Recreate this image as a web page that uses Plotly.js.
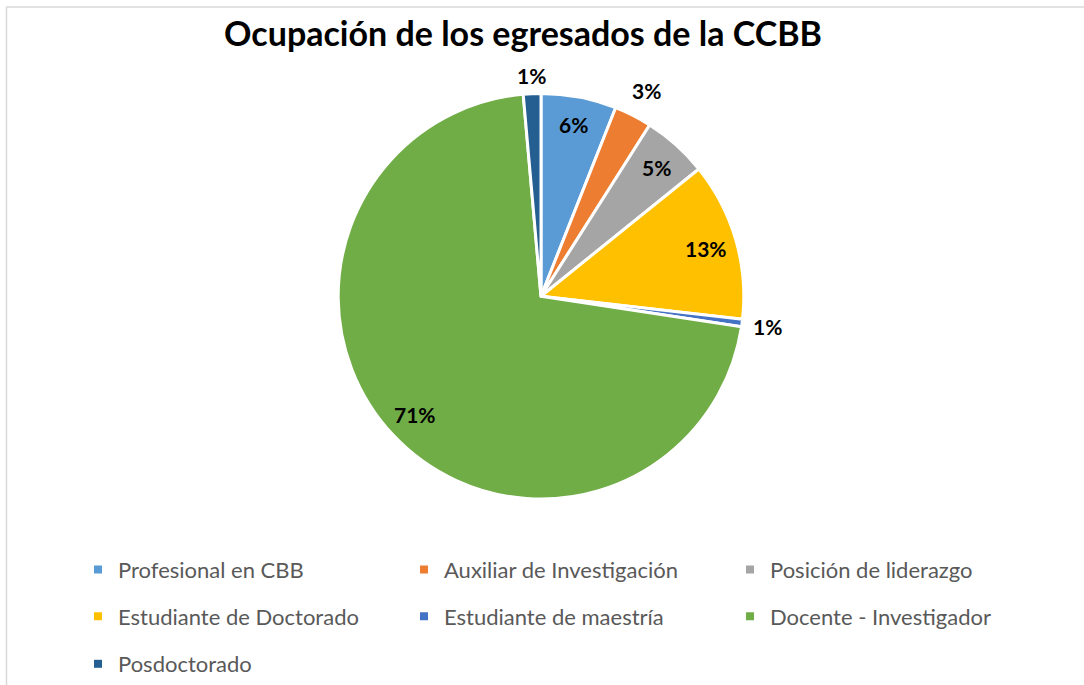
<!DOCTYPE html>
<html>
<head>
<meta charset="utf-8">
<script src="https://cdn.plot.ly/plotly-3.0.1.min.js"></script>
<style>html,body{margin:0;padding:0;background:#fff;}#chart{width:1084px;height:685px;}</style>
</head>
<body>
<div id="chart"></div>
<script>
// Data (percent shares)
const categories = ["Profesional en CBB", "Auxiliar de Investigación", "Posición de liderazgo",
  "Estudiante de Doctorado", "Estudiante de maestría", "Docente - Investigador", "Posdoctorado"];
const shares = [6.0, 3.0, 5.2, 12.6, 0.6, 71.2, 1.4];
const colors = ["#5B9BD5", "#ED7D31", "#A5A5A5", "#FFC000", "#4472C4", "#70AD47", "#255E91"];
// label distance from centre, as a fraction of the radius (style, not data)
const labelRadius = [0.86, 1.14, 0.85, 0.84, 1.12, 0.85, 1.09];
const legendRows = ["legend", "legend", "legend", "legend2", "legend2", "legend2", "legend3"];

const W = 1084, H = 685;
const px = v => v / W, py = v => 1 - v / H;

// pie geometry in pixels (domain)
const pieL = 337, pieR = 745, pieT = 94, pieB = 502;
const cx = (pieL + pieR) / 2, cy = (pieT + pieB) / 2;
const rad = Math.min(pieR - pieL, pieB - pieT) / 2;

const traces = [{
  type: "pie",
  labels: categories,
  values: shares,
  sort: false,
  direction: "clockwise",
  rotation: 0,
  marker: { colors: colors, line: { color: "#ffffff", width: 3 } },
  textinfo: "none",
  hoverinfo: "label+percent",
  showlegend: false,
  automargin: false,
  domain: { x: [px(pieL), px(pieR)], y: [py(pieB), py(pieT)] }
}];

categories.forEach((c, i) => {
  traces.push({
    type: "scatter", mode: "markers", x: [null], y: [null], name: c,
    marker: { symbol: "square", size: 8, color: colors[i] },
    showlegend: true, legend: legendRows[i], hoverinfo: "skip"
  });
});

// percentage labels placed on each slice's bisector
const total = shares.reduce((a, b) => a + b, 0);
let cum = 0;
const annotations = shares.map((v, i) => {
  const mid = (cum + v / 2) / total * 2 * Math.PI;
  cum += v;
  const r = rad * labelRadius[i];
  const x = cx + r * Math.sin(mid), y = cy - r * Math.cos(mid);
  return {
    xref: "paper", yref: "paper", x: px(x), y: py(y), xanchor: "center", yanchor: "middle",
    showarrow: false, text: Math.round(v / total * 100) + "%",
    font: { family: "Lato", size: 21, color: "#000000", weight: "bold" }
  };
});

const legendBase = (yc) => ({
  orientation: "h", x: px(78), xanchor: "left", y: py(yc), yanchor: "middle",
  entrywidth: 281, entrywidthmode: "pixels", bgcolor: "rgba(0,0,0,0)",
  font: { family: "Lato", size: 22, color: "#595959" }, itemclick: false, itemdoubleclick: false
});

const layout = {
  width: W, height: H,
  margin: { l: 0, r: 0, t: 0, b: 0 },
  paper_bgcolor: "#ffffff", plot_bgcolor: "#ffffff",
  title: {
    text: "Ocupación de los egresados de la CCBB",
    font: { family: "Lato", size: 34, color: "#000000", weight: "bold" },
    x: px(523), xanchor: "center", y: py(34), yanchor: "middle", xref: "paper", yref: "paper"
  },
  xaxis: { visible: false }, yaxis: { visible: false },
  legend: legendBase(573),
  legend2: legendBase(620),
  legend3: legendBase(668),
  annotations: annotations,
  shapes: [{
    type: "rect", xref: "paper", yref: "paper",
    x0: px(6.5), x1: 1.05, y0: -0.05, y1: py(7),
    line: { color: "#D9D9D9", width: 1.5 }, fillcolor: "rgba(0,0,0,0)"
  }]
};

Plotly.newPlot("chart", traces, layout, { displayModeBar: false });
</script>
</body>
</html>
